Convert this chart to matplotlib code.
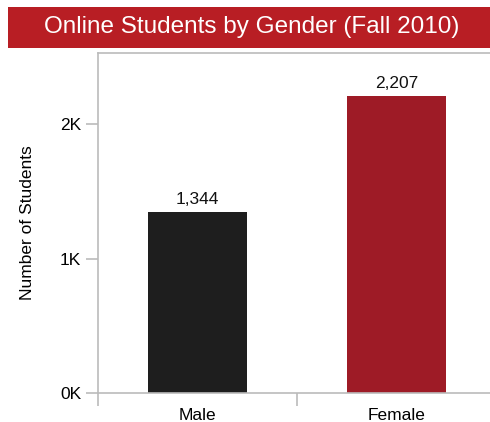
import matplotlib
matplotlib.use("Agg")
import matplotlib.pyplot as plt
from matplotlib.patches import Rectangle
from matplotlib.ticker import FuncFormatter, FixedLocator

categories = ["Male", "Female"]
values = [1344, 2207]
bar_colors = ["#1e1e1e", "#9e1b26"]
yticks = [0, 1000, 2000]
title = "Online Students by Gender (Fall 2010)"
ylabel = "Number of Students"

plt.rcParams['font.family'] = ['Liberation Sans', 'DejaVu Sans']

W, H = 490, 422
fig = plt.figure(figsize=(W / 100, H / 100), dpi=100)

# title banner
fig.patches.append(Rectangle((8 / W, (H - 48) / H), 1 - 8 / W, 41 / H,
                             transform=fig.transFigure, facecolor="#b81e24",
                             edgecolor="none", zorder=0))
fig.text(252 / W, (H - 27.5) / H, title, color="white", fontsize=17.5,
         ha="center", va="center")

ax = fig.add_axes([98 / W, (H - 393) / H, (490 - 98) / W, (393 - 53) / H])
x = list(range(len(categories)))
bars = ax.bar(x, values, width=0.5, color=bar_colors, zorder=2)
for xi, v in zip(x, values):
    ax.annotate(f"{v:,}", (xi, v), xytext=(0, 4), textcoords="offset points",
                ha="center", va="bottom", fontsize=12.5, color="#111111")

ax.set_xlim(-0.5, -0.5 + 392 / 199)
ax.set_ylim(0, 2528)
ax.xaxis.set_major_locator(FixedLocator([-0.5, 0.5]))
ax.xaxis.set_minor_locator(FixedLocator(x))
ax.set_xticklabels([])
ax.set_xticklabels(categories, minor=True)
ax.tick_params(axis="x", which="major", length=9, width=1.2, color="#bbbbbb")
ax.tick_params(axis="x", which="minor", length=0, labelsize=12.5, pad=11)
ax.set_yticks(yticks)
ax.yaxis.set_major_formatter(FuncFormatter(lambda v, p: f"{int(v/1000)}K"))
ax.tick_params(axis="y", length=9, width=1.2, color="#bbbbbb", labelsize=12.5, pad=3)
ax.set_ylabel(ylabel, fontsize=12.5)
ax.yaxis.set_label_coords(-63 / 392, 0.5)

for s in ["left", "bottom", "top"]:
    ax.spines[s].set_color("#bbbbbb")
    ax.spines[s].set_linewidth(1.2)
ax.spines["right"].set_visible(False)

fig.savefig("out.png", dpi=100)
